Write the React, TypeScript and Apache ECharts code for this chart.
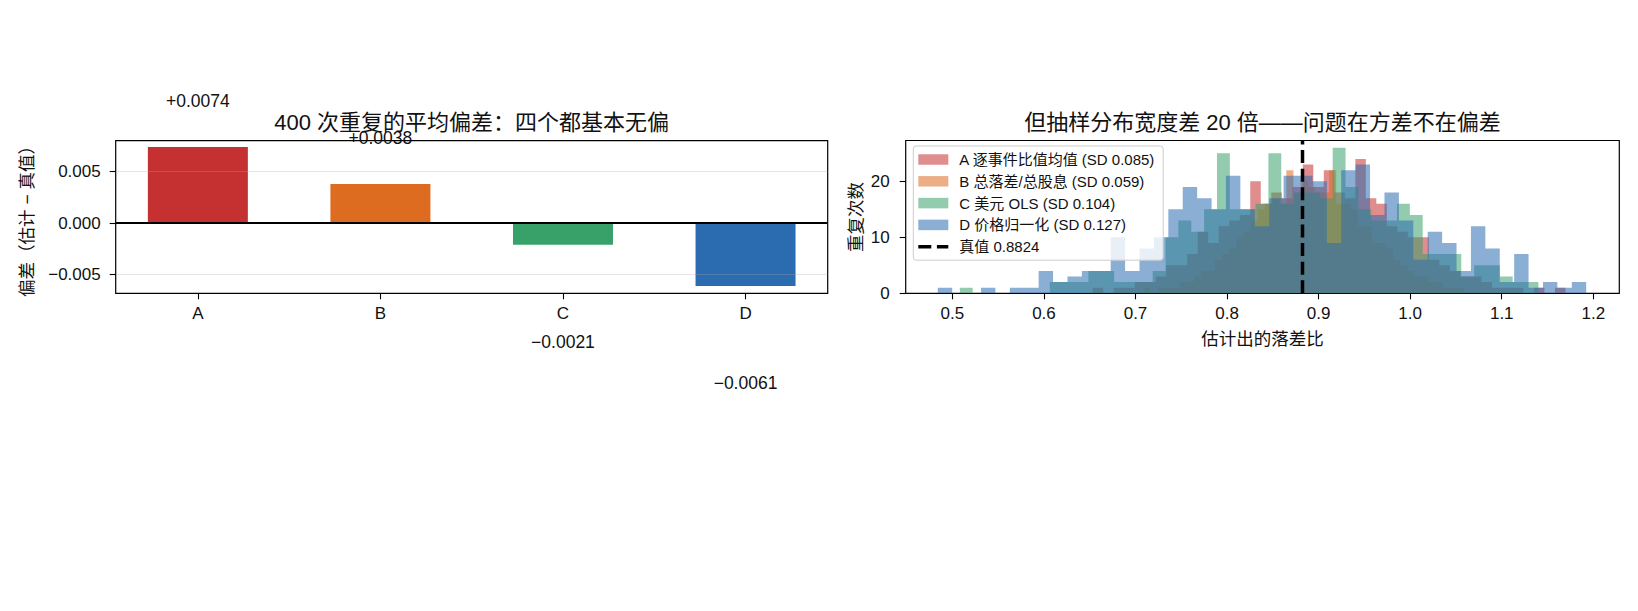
import React, { useEffect, useRef } from "react";
import * as echarts from "echarts";

// ---------- data: left panel (mean bias over 400 repetitions) ----------
const biasCategories = ["A", "B", "C", "D"];
const biasValues = [0.0074, 0.0038, -0.0021, -0.0061];
const biasTicks = [-0.005, 0, 0.005];
const biasMin = -0.0068;
const biasMax = 0.008;

// ---------- data: right panel (sampling distributions, 45 bins each) ----------
const histNames = [
  "A 逐事件比值均值 (SD 0.085)",
  "B 总落差/总股息 (SD 0.059)",
  "C 美元 OLS (SD 0.104)",
  "D 价格归一化 (SD 0.127)",
];
const histStarts = [0.65322, 0.70896, 0.50809, 0.48404];
const histWidths = [0.011475, 0.007787, 0.014044, 0.015738];
const countsA = [1, 0, 1, 1, 2, 2, 3, 5, 5, 7, 11, 9, 12, 13, 14, 20, 16, 18, 17, 19, 23, 19, 22, 18, 17, 24, 17, 16, 12, 11, 10, 10, 6, 5, 4, 3, 3, 2, 1, 1, 1, 0, 1, 0, 1];
const countsB = [1, 0, 1, 1, 1, 2, 2, 3, 4, 4, 6, 7, 8, 10, 11, 13, 15, 16, 17, 16, 22, 18, 20, 19, 18, 18, 22, 16, 16, 15, 12, 12, 9, 9, 8, 6, 5, 4, 3, 3, 2, 2, 1, 1, 1];
const countsC = [1, 0, 0, 0, 0, 0, 0, 2, 2, 2, 4, 4, 2, 2, 2, 4, 10, 13, 11, 15, 25, 15, 15, 16, 25, 16, 18, 18, 17, 26, 19, 15, 13, 13, 16, 14, 7, 7, 7, 3, 5, 5, 3, 2, 2];
const countsD = [1, 0, 0, 1, 0, 1, 1, 4, 2, 3, 4, 4, 10, 4, 8, 10, 15, 19, 17, 15, 21, 15, 12, 17, 21, 21, 20, 9, 22, 23, 14, 18, 13, 6, 11, 9, 4, 12, 8, 2, 7, 1, 2, 1, 2];
const histCounts = [countsA, countsB, countsC, countsD];
const trueValue = 0.8824;
const trueLabel = "真值 0.8824";
const histTicks = [0.5, 0.6, 0.7, 0.8, 0.9, 1.0, 1.1, 1.2];
const histMin = 0.449;
const histMax = 1.2284;
const countTicks = [0, 10, 20];
const countMax = 27.3;

// ---------- styles ----------
const colors = ["#c53030", "#dd6b20", "#38a169", "#2b6cb0"];
const FONT = '"Liberation Sans", "Noto Sans CJK SC", sans-serif';
const TXT = "#111111";

const rgba = (hex: string, a: number) => {
  const n = parseInt(hex.slice(1), 16);
  return `rgba(${(n >> 16) & 255},${(n >> 8) & 255},${n & 255},${a})`;
};
const signed = (v: number, d: number) => (v < 0 ? "\u2212" : "") + Math.abs(v).toFixed(d);

function stepPoints(start: number, width: number, counts: number[]) {
  const pts = counts.map((c, i) => [start + i * width, c]);
  pts.push([start + counts.length * width, counts[counts.length - 1]]);
  return pts;
}

function buildOption() {
  const tickLabel = { fontSize: 17, color: TXT, fontFamily: FONT };
  const nameStyle = { fontSize: 17.5, color: TXT, fontFamily: FONT };
  const hiddenLine = { show: false, onZero: false };

  const barData = biasValues.map((v, i) => ({
    value: [i, v],
    itemStyle: { color: colors[i] },
    label: {
      show: true,
      position: v >= 0 ? "top" : "bottom",
      distance: v >= 0 ? 37 : 88,
      formatter: () => (v >= 0 ? "+" : "\u2212") + Math.abs(v).toFixed(4),
      fontSize: 17.5,
      color: TXT,
      fontFamily: FONT,
    },
  }));

  const histSeries = histCounts.map((counts, k) => ({
    type: "line",
    name: histNames[k],
    xAxisIndex: 1,
    yAxisIndex: 1,
    data: stepPoints(histStarts[k], histWidths[k], counts),
    step: "end",
    symbol: "none",
    lineStyle: { width: 0, opacity: 0 },
    itemStyle: { color: rgba(colors[k], 0.55) },
    areaStyle: { color: rgba(colors[k], 0.55), opacity: 1 },
    silent: true,
    z: 2,
  }));

  return {
    animation: false,
    backgroundColor: "#ffffff",
    textStyle: { fontFamily: FONT },
    graphic: [
      {
        type: "text",
        x: 471.7,
        y: 122.7,
        style: {
          text: "400 次重复的平均偏差：四个都基本无偏",
          fontSize: 22,
          fontFamily: FONT,
          fill: TXT,
          align: "center",
          verticalAlign: "middle",
        },
      },
      {
        type: "text",
        x: 1262.5,
        y: 122.7,
        style: {
          text: "但抽样分布宽度差 20 倍——问题在方差不在偏差",
          fontSize: 22,
          fontFamily: FONT,
          fill: TXT,
          align: "center",
          verticalAlign: "middle",
        },
      },
    ],
    grid: [
      { left: 115.7, top: 140.7, width: 712, height: 152.6, show: true, borderColor: "#000", borderWidth: 1.2, backgroundColor: "transparent" },
      { left: 905.7, top: 140.5, width: 713.6, height: 152.8, show: true, borderColor: "#000", borderWidth: 1.2, backgroundColor: "transparent" },
    ],
    legend: {
      orient: "vertical",
      left: 913.3,
      top: 146,
      padding: [6, 8, 6, 5],
      itemWidth: 30,
      itemHeight: 10.5,
      itemGap: 6.8,
      backgroundColor: "rgba(255,255,255,0.8)",
      borderColor: "#cccccc",
      borderWidth: 1,
      borderRadius: 3,
      selectedMode: false,
      textStyle: { fontSize: 15, fontFamily: FONT, color: TXT, lineHeight: 15, padding: [0, 0, 0, 6] },
      data: [
        ...histNames.map((n) => ({ name: n, icon: "rect" })),
        { name: trueLabel, icon: "path://M0,0h13v3.5h-13z M18.6,0h11.4v3.5h-11.4z" },
      ],
    },
    xAxis: [
      {
        type: "value",
        gridIndex: 0,
        min: -0.45,
        max: 3.45,
        axisLine: hiddenLine,
        splitLine: { show: false },
        axisTick: { show: true, customValues: [0, 1, 2, 3], length: 6, lineStyle: { color: "#000", width: 1.1 } },
        axisLabel: { customValues: [0, 1, 2, 3], formatter: (v: number) => biasCategories[Math.round(v)], margin: 12, ...tickLabel },
      },
      {
        type: "value",
        gridIndex: 1,
        min: histMin,
        max: histMax,
        axisLine: hiddenLine,
        splitLine: { show: false },
        axisTick: { show: true, customValues: histTicks, length: 6, lineStyle: { color: "#000", width: 1.1 } },
        axisLabel: { customValues: histTicks, formatter: (v: number) => v.toFixed(1), margin: 12, ...tickLabel },
        name: "估计出的落差比",
        nameLocation: "middle",
        nameGap: 37,
        nameTextStyle: nameStyle,
      },
    ],
    yAxis: [
      {
        type: "value",
        gridIndex: 0,
        min: biasMin,
        max: biasMax,
        z: 3,
        axisLine: hiddenLine,
        splitLine: { show: true, lineStyle: { color: "rgba(170,170,170,0.3)", width: 1 } },
        axisTick: { show: true, customValues: biasTicks, length: 6, lineStyle: { color: "#000", width: 1.1 } },
        axisLabel: { customValues: biasTicks, formatter: (v: number) => signed(v, 3), margin: 15, ...tickLabel },
        name: "偏差（估计 − 真值）",
        nameLocation: "middle",
        nameGap: 80,
        nameTextStyle: nameStyle,
      },
      {
        type: "value",
        gridIndex: 1,
        min: 0,
        max: countMax,
        axisLine: hiddenLine,
        splitLine: { show: false },
        axisTick: { show: true, customValues: countTicks, length: 6, lineStyle: { color: "#000", width: 1.1 } },
        axisLabel: { customValues: countTicks, formatter: (v: number) => String(v), margin: 16, ...tickLabel },
        name: "重复次数",
        nameLocation: "middle",
        nameGap: 41,
        nameTextStyle: nameStyle,
      },
    ],
    series: [
      {
        type: "bar",
        xAxisIndex: 0,
        yAxisIndex: 0,
        barWidth: 100,
        data: barData,
        z: 2,
        markLine: {
          silent: true,
          z: 6,
          symbol: ["none", "none"],
          label: { show: false },
          lineStyle: { color: "#000", width: 1.8, type: "solid" },
          data: [{ yAxis: 0 }],
        },
      },
      ...histSeries,
      {
        type: "line",
        name: trueLabel,
        xAxisIndex: 1,
        yAxisIndex: 1,
        data: [
          [trueValue, 0],
          [trueValue, countMax],
        ],
        symbol: "none",
        lineStyle: { color: "#000", width: 3.5, type: [13, 5.6] },
        itemStyle: { color: "#000" },
        silent: true,
        z: 5,
      },
    ],
  };
}

export default function App() {
  const ref = useRef<HTMLDivElement>(null);
  useEffect(() => {
    if (!ref.current) return;
    const chart = echarts.init(ref.current, null, { renderer: "svg" });
    chart.setOption(buildOption() as any);
    return () => chart.dispose();
  }, []);
  return (
    <div
      ref={ref}
      style={{ position: "fixed", left: 0, top: 0, width: 1638, height: 611, background: "#ffffff" }}
    />
  );
}
